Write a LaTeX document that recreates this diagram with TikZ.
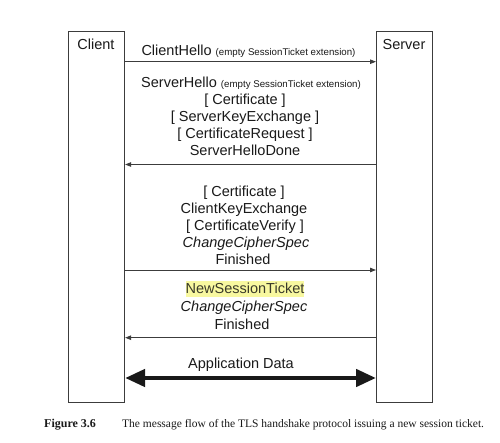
\documentclass[tikz,border=0pt]{standalone}
\usepackage{fontspec}
\setmainfont{Liberation Sans}
\newfontfamily\capfont{Liberation Serif}
\usetikzlibrary{arrows.meta}
\definecolor{linec}{HTML}{3C3C3C}
\definecolor{txtc}{HTML}{1A1A1A}
\definecolor{hltext}{HTML}{3A3A2A}
\definecolor{hl}{HTML}{F8F8A0}
\begin{document}
\begin{tikzpicture}[x=1pt,y=-1pt,
  actor/.style={draw=linec, line width=1.1pt, minimum width=56pt, minimum height=371pt, inner sep=0pt, anchor=north west},
  t/.style={anchor=base, inner sep=0pt, text=txtc, font=\fontsize{14.5}{17}\selectfont},
  ti/.style={t, font=\fontsize{14.5}{17}\selectfont\itshape},
  msg/.style={draw=linec, line width=0.9pt, -{Triangle[length=6pt,width=4.5pt]}},
  big/.style={draw=black!90, line width=4.5pt, {Triangle[length=20pt,width=17pt]}-{Triangle[length=20pt,width=17pt]}},
  captext/.style={anchor=base west, inner sep=0pt, text=txtc, font=\capfont\fontsize{11.5}{14}\selectfont}
]
\useasboundingbox (0,0) rectangle (500,443);
\fill[white] (0,0) rectangle (500,443);

% actors
\node[actor] (client) at (68,31) {};
\node[actor] (server) at (376,31) {};
\node[t] (clientlbl) at (96,49.5) {Client};
\node[t] (serverlbl) at (404,49.5) {Server};

% arrow levels
\coordinate (y1) at (0,61.7);
\coordinate (y2) at (0,164.5);
\coordinate (y3) at (0,270);
\coordinate (y4) at (0,337.7);
\coordinate (y5) at (0,378);

% message 1
\node[t] (m1) at (248.5,56) {ClientHello {\fontsize{9.7}{11}\selectfont (empty SessionTicket extension)}};
\draw[msg] (client.east |- y1) -- (server.west |- y1);

% message 2
\node[t] (m2a) at (251,87.5) {ServerHello {\fontsize{9.7}{11}\selectfont (empty SessionTicket extension)}};
\node[t] (m2b) at (245,104.5) {[ Certificate ]};
\node[t] (m2c) at (245,121.5) {[ ServerKeyExchange ]};
\node[t] (m2d) at (245,138.5) {[ CertificateRequest ]};
\node[t] (m2e) at (245,155.5) {ServerHelloDone};
\draw[msg] (server.west |- y2) -- (client.east |- y2);

% message 3
\node[t] (m3a) at (244,197) {[ Certificate ]};
\node[t] (m3b) at (244,213.5) {ClientKeyExchange};
\node[t] (m3c) at (245,230.5) {[ CertificateVerify ]};
\node[ti] (m3d) at (246,247.5) {ChangeCipherSpec};
\node[t] (m3e) at (243,265) {Finished};
\draw[msg] (client.east |- y3) -- (server.west |- y3);

% message 4
\node[t, fill=hl, text=hltext, inner xsep=0pt, inner ysep=0pt, text height=13pt, text depth=3pt] (m4a) at (245,294) {NewSessionTicket};
\node[ti] (m4b) at (244,312) {ChangeCipherSpec};
\node[t] (m4c) at (242,329.5) {Finished};
\draw[msg] (server.west |- y4) -- (client.east |- y4);

% application data
\node[t] (m5) at (241,368.5) {Application Data};
\draw[big] (client.east |- y5) -- (server.west |- y5);

% caption
\node[captext, font=\capfont\fontsize{12}{14}\selectfont] (figlbl) at (44,427) {\bfseries Figure 3.6};
\node[captext] (captxt) at (122,427) {The message flow of the TLS handshake protocol issuing a new session ticket.};
\end{tikzpicture}
\end{document}
